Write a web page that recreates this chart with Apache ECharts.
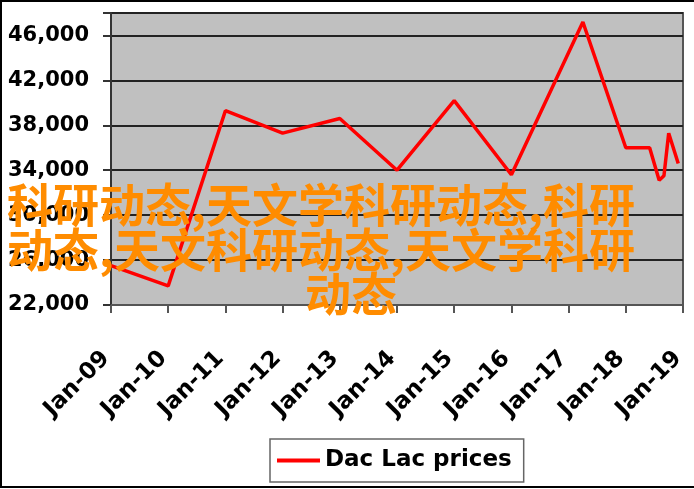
<!DOCTYPE html>
<html><head><meta charset="utf-8">
<script src="https://cdn.jsdelivr.net/npm/echarts@6/dist/echarts.min.js"></script>
<style>html,body{margin:0;padding:0;background:#fff}#c{width:694px;height:489px}</style>
</head><body><div id="c"></div>
<script>
// months since Jan-2009
const months = [0, 12, 24, 36, 48, 60, 72, 84, 99, 108, 113, 115, 116, 117, 119];
const prices = [25500, 23700, 39300, 37300, 38600, 34000, 40200, 33600, 47200, 36000, 36000, 33100, 33500, 37300, 34600];
const yearLabels = ['Jan-09','Jan-10','Jan-11','Jan-12','Jan-13','Jan-14','Jan-15','Jan-16','Jan-17','Jan-18','Jan-19'];
const yTickLabels = ['22,000','26,000','30,000','34,000','38,000','42,000','46,000'];
const seriesName = 'Dac Lac prices';
const overlayLines = ['科研动态,天文学科研动态,科研', '动态,天文科研动态,天文学科研', '动态'];

const chart = echarts.init(document.getElementById('c'), null, {renderer: 'canvas'});
const boldFont = 'DejaVu Sans';
const overlayPos = [[7, 205], [7, 250], [305, 294]];

chart.setOption({
  animation: false,
  backgroundColor: '#ffffff',
  grid: {left: 111, right: 11, top: 13, bottom: 184, show: true, backgroundColor: '#C0C0C0', borderColor: '#555', borderWidth: 2},
  xAxis: {
    type: 'value', min: 0, max: 120, interval: 12,
    axisLine: {show: true, lineStyle: {color: '#555', width: 2}},
    axisTick: {show: true, length: 8, lineStyle: {color: '#555', width: 2}},
    splitLine: {show: false},
    axisLabel: {
      rotate: 45, margin: 45, padding: [0, 7, 0, 0], color: '#000', fontFamily: boldFont, fontWeight: 'bold', fontSize: 23,
      formatter: v => (v % 12 === 0 && yearLabels[v / 12]) ? yearLabels[v / 12] : ''
    }
  },
  yAxis: {
    type: 'value', min: 22000, max: 48000, interval: 4000,
    axisLine: {show: true, lineStyle: {color: '#333', width: 2}},
    axisTick: {show: true, length: 8, lineStyle: {color: '#333', width: 2}},
    splitLine: {show: true, lineStyle: {color: '#222', width: 2}},
    axisLabel: {
      margin: 22, color: '#000', fontFamily: boldFont, fontWeight: 'bold', fontSize: 21,
      formatter: v => {
        const i = (v - 22000) / 4000;
        return Number.isInteger(i) && yTickLabels[i] ? yTickLabels[i] : '';
      }
    }
  },
  legend: {
    left: 270, top: 439, icon: 'rect', itemWidth: 43, itemHeight: 4,
    padding: [9, 12, 9, 7], borderColor: '#666', borderWidth: 1.5, backgroundColor: '#fff',
    textStyle: {fontFamily: boldFont, fontWeight: 'bold', fontSize: 23, color: '#000', lineHeight: 25},
    data: [seriesName]
  },
  series: [{
    name: seriesName, type: 'line', symbol: 'none',
    data: months.map((m, i) => [m, prices[i]]),
    lineStyle: {color: '#FF0000', width: 3.5}, itemStyle: {color: '#FF0000'}
  }],
  graphic: [
    {type: 'rect', z: 50, silent: true, shape: {x: 1, y: 1, width: 760, height: 486}, style: {fill: null, stroke: '#000', lineWidth: 2}}
  ].concat(overlayLines.map((t, i) => ({
    type: 'text', z: 100, silent: true, x: overlayPos[i][0], y: overlayPos[i][1],
    style: {text: t, fill: '#FF8C00', font: 'bold 46px "Noto Sans CJK SC"', verticalAlign: 'middle', align: 'left'}
  })))
});
</script></body></html>
